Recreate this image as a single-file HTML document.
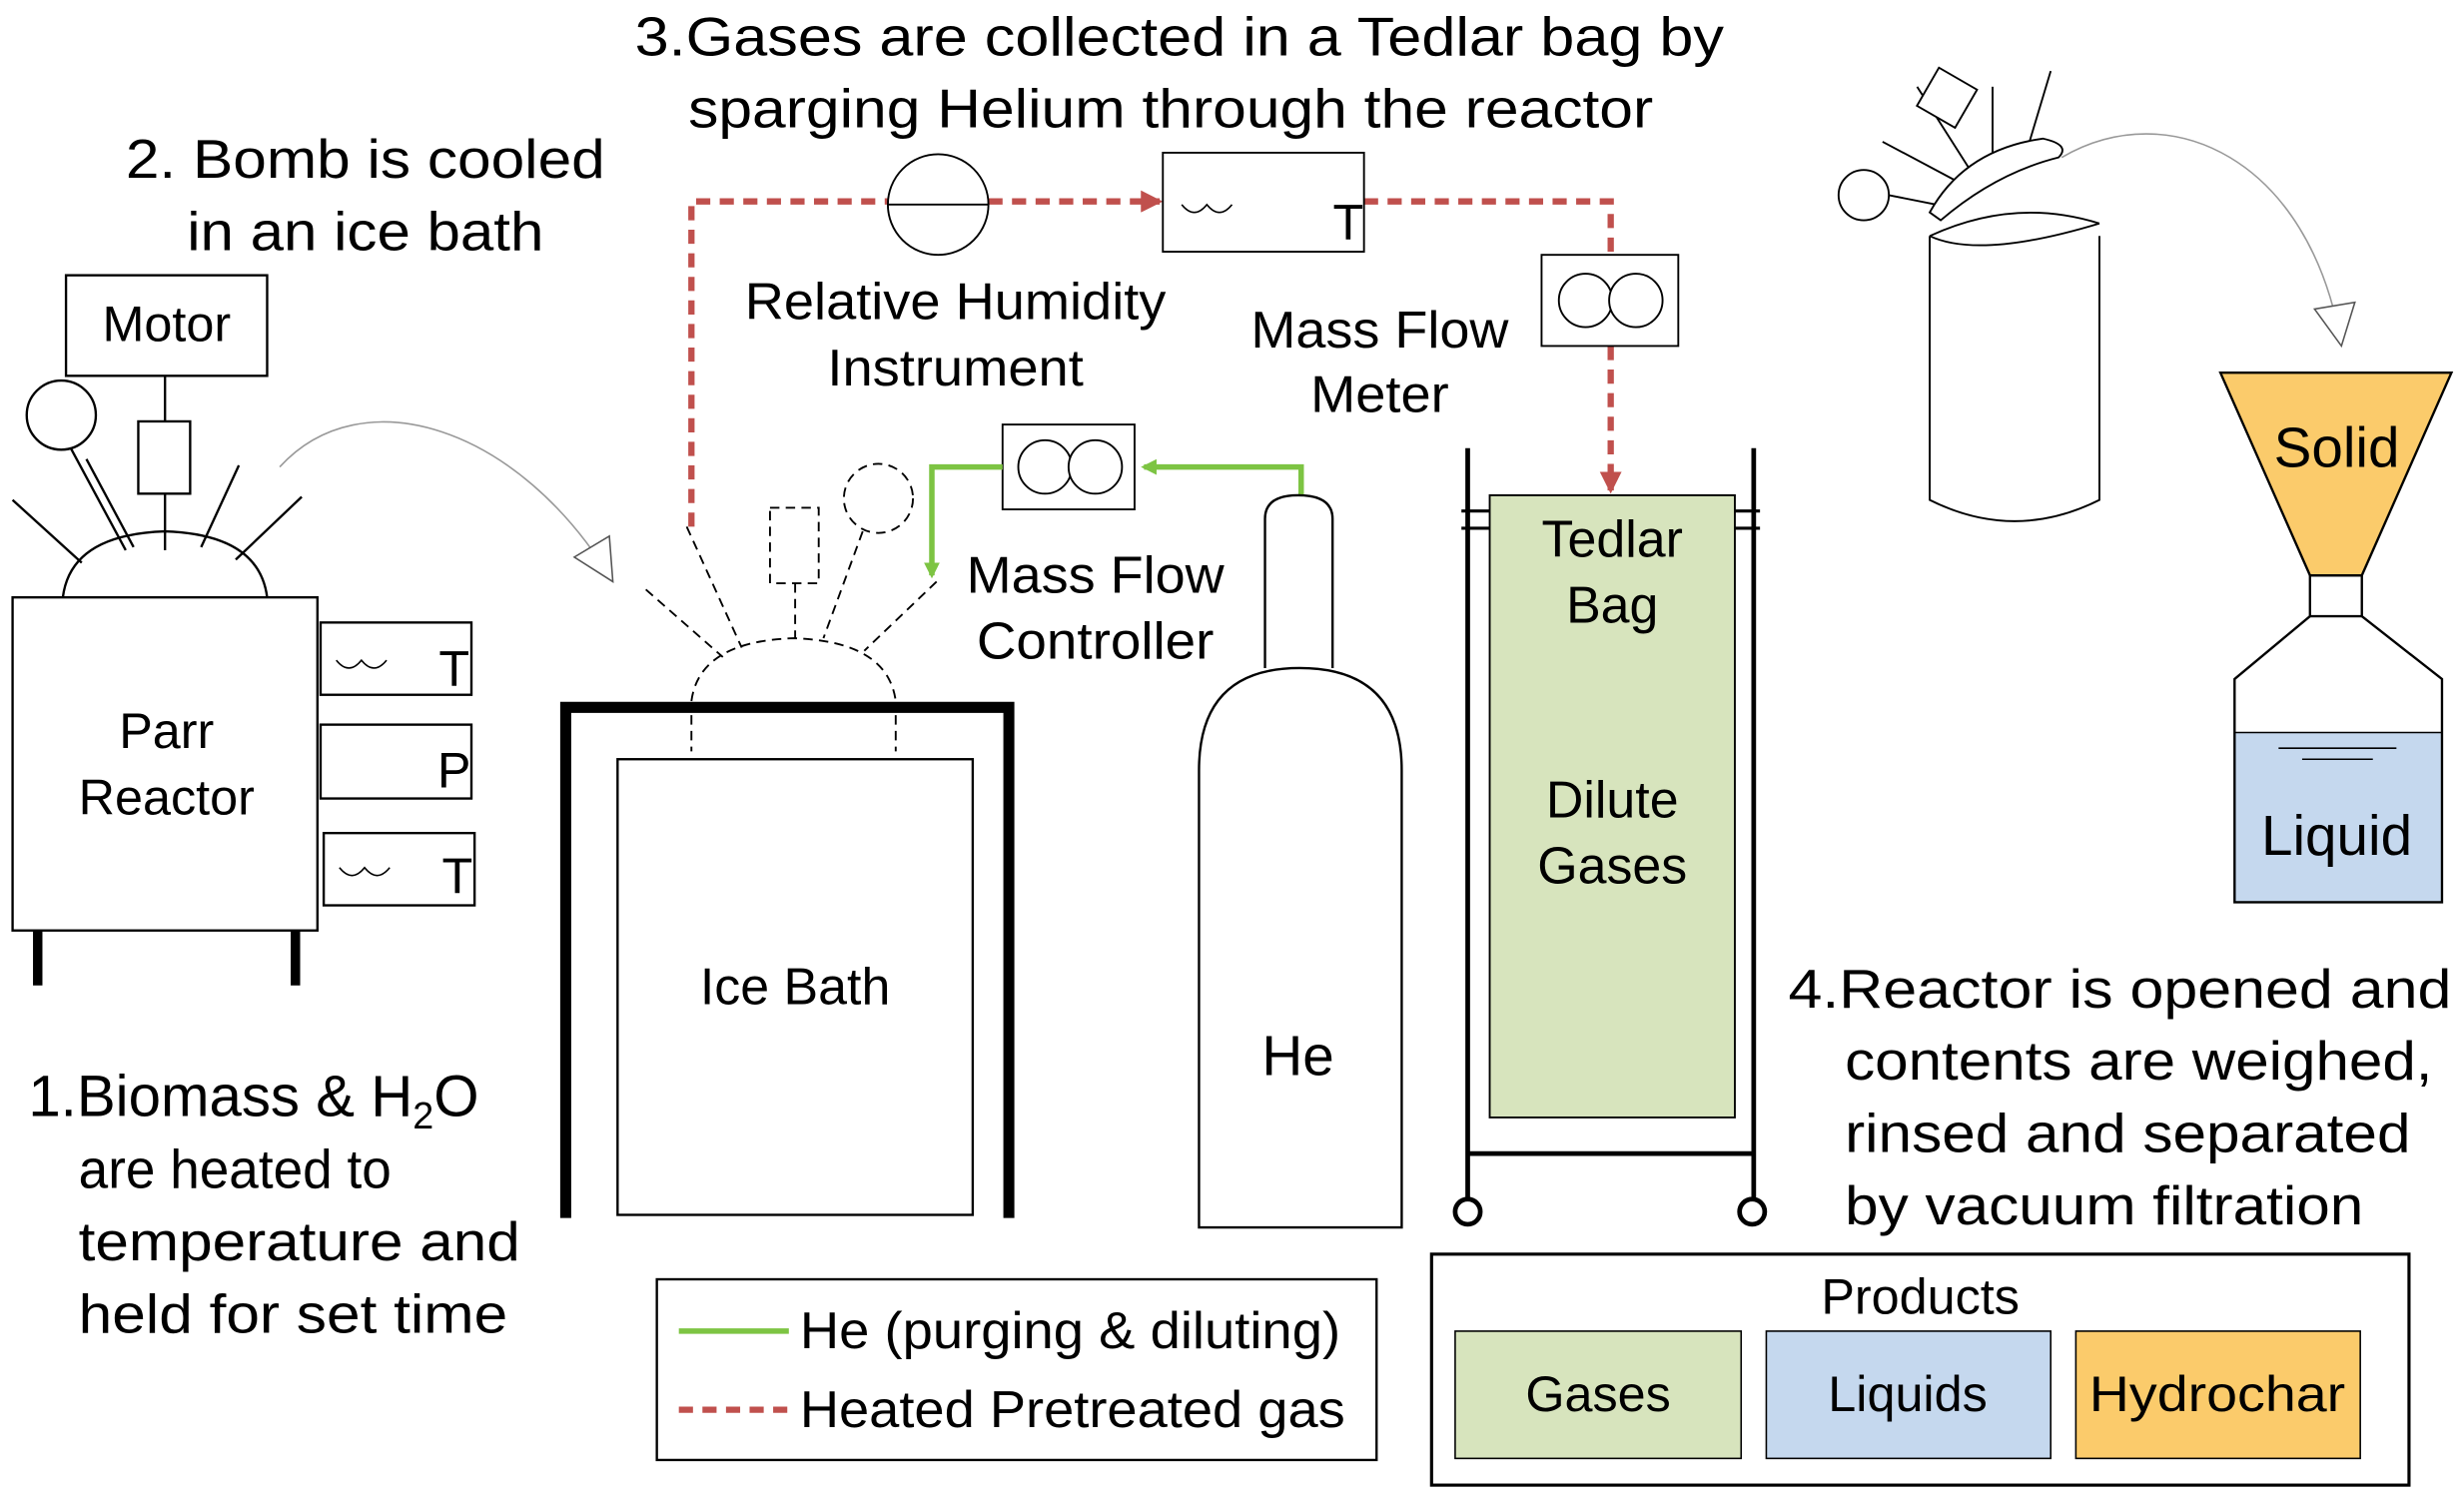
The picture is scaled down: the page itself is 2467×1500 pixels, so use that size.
<!DOCTYPE html>
<html><head><meta charset="utf-8"><style>html,body{margin:0;padding:0;background:#fff}svg{display:block}</style></head>
<body>
<svg width="2467" height="1500" viewBox="0 0 1568 953" xmlns="http://www.w3.org/2000/svg" font-family="Liberation Sans, Arial, sans-serif">
<defs>
<marker id="ar" markerWidth="14" markerHeight="14" refX="12" refY="7" orient="auto" markerUnits="userSpaceOnUse"><path d="M0,0 L14,7 L0,14 z" fill="#c0504d"/></marker>
<marker id="ag" markerWidth="10" markerHeight="10" refX="8" refY="5" orient="auto" markerUnits="userSpaceOnUse"><path d="M0,0 L10,5 L0,10 z" fill="#7dc443"/></marker>
<marker id="ao" markerWidth="30" markerHeight="30" refX="28" refY="15" orient="auto" markerUnits="userSpaceOnUse"><path d="M2,2 L28,15 L2,28 z" fill="#fff" stroke="#555" stroke-width="1"/></marker>
</defs>
<g fill="#000" font-size="35" lengthAdjust="spacingAndGlyphs">
<text x="80" y="113" textLength="305" lengthAdjust="spacingAndGlyphs">2. Bomb is cooled</text>
<text x="119" y="159" textLength="227" lengthAdjust="spacingAndGlyphs">in an ice bath</text>
<text x="404" y="35" textLength="693" lengthAdjust="spacingAndGlyphs">3.Gases are collected in a Tedlar bag by</text>
<text x="438" y="81" textLength="614" lengthAdjust="spacingAndGlyphs">sparging Helium through the reactor</text>
<text x="18" y="710" font-size="37">1.Biomass &amp; H<tspan font-size="24" dy="8">2</tspan><tspan dy="-8">O</tspan></text>
<text x="50" y="756" textLength="199" lengthAdjust="spacingAndGlyphs">are heated to</text>
<text x="50" y="802" textLength="281" lengthAdjust="spacingAndGlyphs">temperature and</text>
<text x="50" y="848" textLength="273" lengthAdjust="spacingAndGlyphs">held for set time</text>
<text x="1138" y="641" textLength="422" lengthAdjust="spacingAndGlyphs">4.Reactor is opened and</text>
<text x="1174" y="687" textLength="374" lengthAdjust="spacingAndGlyphs">contents are weighed,</text>
<text x="1174" y="733" textLength="360" lengthAdjust="spacingAndGlyphs">rinsed and separated</text>
<text x="1174" y="779" textLength="330" lengthAdjust="spacingAndGlyphs">by vacuum filtration</text>
</g>
<g fill="none" stroke="#000" stroke-width="1.5">
<rect x="42" y="175" width="128" height="64"/>
<circle cx="39" cy="264" r="22"/>
<rect x="88" y="268" width="33" height="46"/>
<line x1="105" y1="239" x2="105" y2="268"/>
<line x1="105" y1="314" x2="105" y2="350"/>
<line x1="45" y1="285" x2="80" y2="350"/>
<line x1="8" y1="318" x2="52" y2="358"/>
<line x1="55" y1="292" x2="85" y2="348"/>
<line x1="152" y1="296" x2="128" y2="348"/>
<line x1="192" y1="316" x2="150" y2="356"/>
<path d="M40,380 Q45,340 105,338 Q165,340 170,380"/>
<rect x="8" y="380" width="194" height="212"/>
<rect x="204" y="396" width="96" height="46"/>
<rect x="204" y="461" width="96" height="47"/>
<rect x="206" y="530" width="96" height="46"/>
<path d="M214,420 q8,10 16,0 q8,10 16,0" stroke-width="1"/>
<path d="M216,552 q8,10 16,0 q8,10 16,0" stroke-width="1"/>
</g>
<line x1="24" y1="592" x2="24" y2="627" stroke="#000" stroke-width="6"/>
<line x1="188" y1="592" x2="188" y2="627" stroke="#000" stroke-width="6"/>
<g font-size="32" fill="#000" text-anchor="middle">
<text x="106" y="217">Motor</text>
<text x="106" y="476">Parr</text>
<text x="106" y="518">Reactor</text>
<text x="289" y="436">T</text>
<text x="289" y="501">P</text>
<text x="291" y="568">T</text>
</g>
<path d="M178,297 C230,240 330,270 390,370" fill="none" stroke="#999" stroke-width="1" marker-end="url(#ao)"/>
<polyline points="360,775 360,450 642,450 642,775" fill="none" stroke="#000" stroke-width="7"/>
<rect x="393" y="483" width="226" height="290" fill="none" stroke="#000" stroke-width="1.5"/>
<text x="506" y="639" font-size="33" text-anchor="middle">Ice Bath</text>
<g fill="none" stroke="#000" stroke-width="1.2" stroke-dasharray="6,4">
<path d="M440,446 Q445,408 505,406 Q565,408 570,446"/>
<line x1="440" y1="455" x2="440" y2="478"/><line x1="570" y1="455" x2="570" y2="478"/>
<rect x="490" y="323" width="31" height="48"/>
<circle cx="559" cy="317" r="22"/>
<line x1="506" y1="371" x2="506" y2="406"/>
<line x1="411" y1="375" x2="460" y2="418"/>
<line x1="437" y1="335" x2="472" y2="412"/>
<line x1="549" y1="338" x2="524" y2="406"/>
<line x1="596" y1="370" x2="550" y2="414"/>
</g>
<g fill="none" stroke="#c0504d" stroke-width="4" stroke-dasharray="9,6">
<polyline points="440,335 440,128 565,128"/>
<line x1="629" y1="128" x2="738" y2="128" marker-end="url(#ar)"/>
<polyline points="868,128 1025,128 1025,162"/>
<line x1="1025" y1="220" x2="1025" y2="312" marker-end="url(#ar)"/>
</g>
<g fill="#fff" stroke="#000" stroke-width="1.2">
<circle cx="597" cy="130" r="32"/>
<line x1="565" y1="130" x2="629" y2="130"/>
<rect x="740" y="97" width="128" height="63"/>
<rect x="981" y="162" width="87" height="58"/>
<circle cx="1009" cy="191" r="17"/><circle cx="1041" cy="191" r="17"/>
<rect x="638" y="270" width="84" height="54"/>
<circle cx="665" cy="297" r="17"/><circle cx="697" cy="297" r="17"/>
</g>
<path d="M752,130 q8,10 16,0 q8,10 16,0" fill="none" stroke="#000" stroke-width="1"/>
<text x="858" y="152" font-size="32" text-anchor="middle">T</text>
<g font-size="33" text-anchor="middle" fill="#000">
<text x="608" y="203" textLength="268" lengthAdjust="spacingAndGlyphs">Relative Humidity</text>
<text x="608" y="245" textLength="163" lengthAdjust="spacingAndGlyphs">Instrument</text>
<text x="878" y="221" textLength="164" lengthAdjust="spacingAndGlyphs">Mass Flow</text>
<text x="878" y="262" textLength="88" lengthAdjust="spacingAndGlyphs">Meter</text>
<text x="697" y="377" textLength="164" lengthAdjust="spacingAndGlyphs">Mass Flow</text>
<text x="697" y="419" textLength="151" lengthAdjust="spacingAndGlyphs">Controller</text>
</g>
<g fill="none" stroke="#7dc443" stroke-width="3.5">
<polyline points="828,318 828,297 728,297" marker-end="url(#ag)"/>
<polyline points="638,297 593,297 593,366" marker-end="url(#ag)"/>
</g>
<g fill="#fff" stroke="#000" stroke-width="1.5">
<path d="M805,425 L805,330 Q805,315 826,315 Q848,315 848,330 L848,425"/>
<path d="M763,781 L763,490 Q763,425 827,425 Q892,425 892,490 L892,781 Z"/>
</g>
<text x="826" y="684" font-size="36" text-anchor="middle">He</text>
<g stroke="#000" stroke-width="3" fill="none">
<line x1="934" y1="285" x2="934" y2="762"/>
<line x1="1116" y1="285" x2="1116" y2="762"/>
<line x1="930" y1="325" x2="1120" y2="325" stroke-width="2"/>
<line x1="930" y1="336" x2="1120" y2="336" stroke-width="2"/>
<line x1="934" y1="734" x2="1116" y2="734"/>
<circle cx="934" cy="771" r="8"/><circle cx="1115" cy="771" r="8"/>
</g>
<rect x="948" y="315" width="156" height="396" fill="#d7e4bd" stroke="#000" stroke-width="1.2"/>
<g font-size="33" text-anchor="middle">
<text x="1026" y="354">Tedlar</text>
<text x="1026" y="396">Bag</text>
<text x="1026" y="520">Dilute</text>
<text x="1026" y="562">Gases</text>
</g>
<g fill="#fff" stroke="#000" stroke-width="1.2">
<path d="M1228,150 L1228,318 Q1282,345 1336,318 L1336,150"/>
<path d="M1228,150 Q1282,125 1336,142" fill="none"/>
<path d="M1228,150 Q1260,165 1336,142" fill="none"/>
<line x1="1198" y1="90" x2="1245" y2="115"/>
<line x1="1220" y1="55" x2="1255" y2="110"/>
<line x1="1268" y1="55" x2="1268" y2="105"/>
<line x1="1305" y1="45" x2="1290" y2="95"/>
<line x1="1202" y1="124" x2="1232" y2="130"/>
<path d="M1228,135 Q1250,95 1300,88 Q1318,92 1310,100 Q1270,110 1235,140 Z"/>
<rect x="1225" y="48" width="28" height="28" transform="rotate(30 1239 62)"/>
<circle cx="1186" cy="124" r="16"/>
</g>
<path d="M1312,100 C1380,60 1470,100 1490,220" fill="none" stroke="#999" stroke-width="1" marker-end="url(#ao)"/>
<path d="M1422,466 L1554,466 L1554,574 L1422,574 Z" fill="#c5d8ee"/>
<path d="M1470,392 L1422,432 L1422,574 L1554,574 L1554,432 L1503,392" fill="none" stroke="#000" stroke-width="1.5"/>
<line x1="1422" y1="466" x2="1554" y2="466" stroke="#000" stroke-width="1"/>
<line x1="1450" y1="476" x2="1525" y2="476" stroke="#000" stroke-width="1"/>
<line x1="1465" y1="483" x2="1510" y2="483" stroke="#000" stroke-width="1"/>
<rect x="1470" y="366" width="33" height="26" fill="#fff" stroke="#000" stroke-width="1.5"/>
<path d="M1413,237 L1560,237 L1503,366 L1470,366 Z" fill="#fbcb6b" stroke="#000" stroke-width="1.5"/>
<text x="1487" y="297" font-size="36" text-anchor="middle">Solid</text>
<text x="1487" y="544" font-size="36" text-anchor="middle">Liquid</text>
<rect x="418" y="814" width="458" height="115" fill="none" stroke="#000" stroke-width="1.5"/>
<line x1="432" y1="847" x2="502" y2="847" stroke="#7dc443" stroke-width="3.5"/>
<line x1="432" y1="897" x2="502" y2="897" stroke="#c0504d" stroke-width="4" stroke-dasharray="9,6"/>
<text x="509" y="858" font-size="33" textLength="344" lengthAdjust="spacingAndGlyphs">He (purging &amp; diluting)</text>
<text x="509" y="908" font-size="33" textLength="347" lengthAdjust="spacingAndGlyphs">Heated Pretreated gas</text>
<rect x="911" y="798" width="622" height="147" fill="none" stroke="#000" stroke-width="2"/>
<text x="1222" y="836" font-size="32" text-anchor="middle">Products</text>
<rect x="926" y="847" width="182" height="81" fill="#d7e4bd" stroke="#000" stroke-width="1"/>
<rect x="1124" y="847" width="181" height="81" fill="#c5d8ee" stroke="#000" stroke-width="1"/>
<rect x="1321" y="847" width="181" height="81" fill="#fbcb6b" stroke="#000" stroke-width="1"/>
<text x="1017" y="898" font-size="32" text-anchor="middle">Gases</text>
<text x="1214" y="898" font-size="32" text-anchor="middle">Liquids</text>
<text x="1411" y="898" font-size="32" text-anchor="middle" textLength="163" lengthAdjust="spacingAndGlyphs">Hydrochar</text>
</svg>
</body></html>
